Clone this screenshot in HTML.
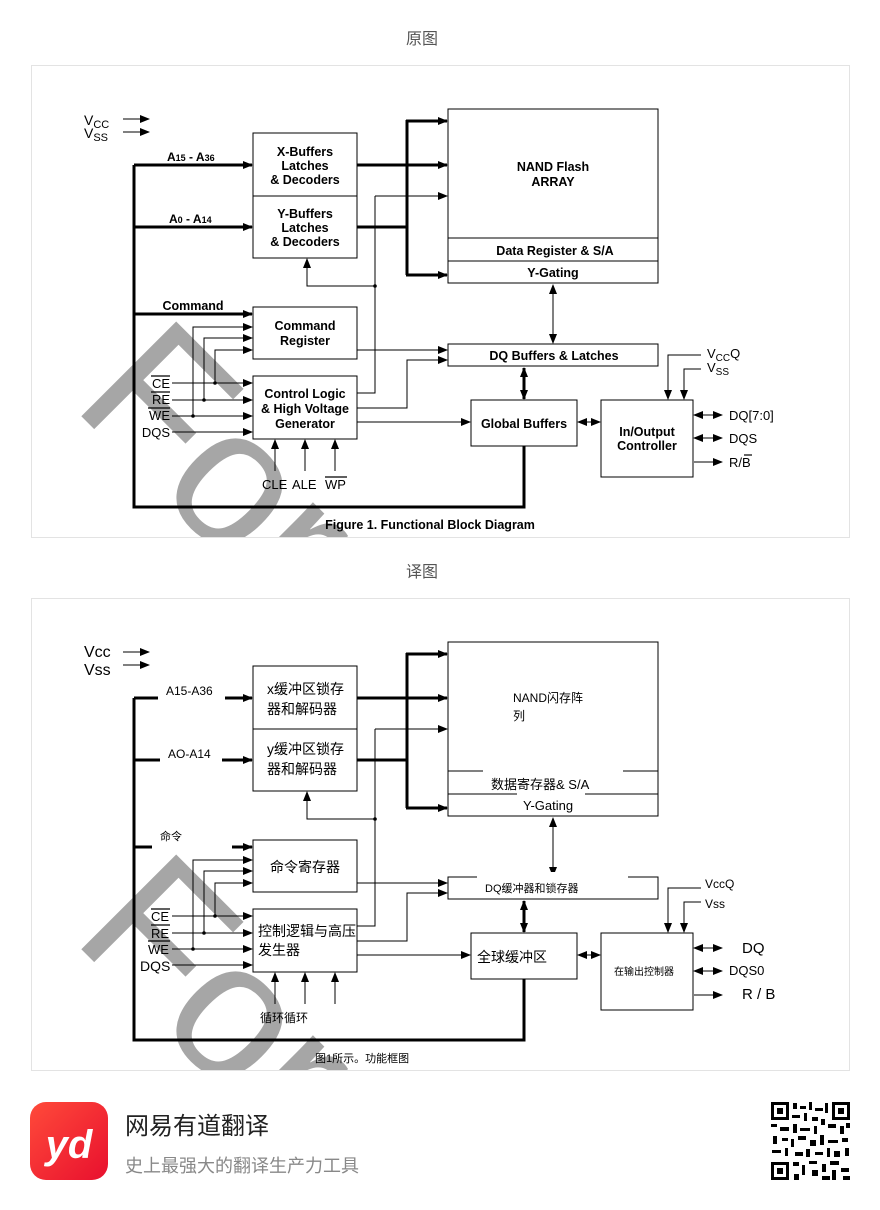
<!DOCTYPE html>
<html><head><meta charset="utf-8"><style>
html,body{margin:0;padding:0;background:#fff;}
svg{display:block;}
text{font-family:"Liberation Sans","Noto Sans CJK SC",sans-serif;}
</style></head><body>
<svg width="880" height="1210" viewBox="0 0 880 1210" xmlns="http://www.w3.org/2000/svg">
<defs>
<marker id="a" markerUnits="userSpaceOnUse" markerWidth="10" markerHeight="8" refX="9" refY="4" orient="auto"><path d="M0,0 L10,4 L0,8 z" fill="#000"/></marker>
<marker id="s" markerUnits="userSpaceOnUse" markerWidth="10" markerHeight="8" refX="1" refY="4" orient="auto"><path d="M10,0 L0,4 L10,8 z" fill="#000"/></marker>
<clipPath id="c1"><rect x="31" y="65" width="818" height="472"/></clipPath>
<g id="wm">
<text x="70" y="405" transform="rotate(45 70 405)" font-size="195" fill="#a6a6a6">For</text>
</g>
<g id="diag" stroke="#000" fill="none">
<g stroke-width="3">
<path d="M134,165 V507 H524 V446"/>
<line x1="134" y1="165" x2="252" y2="165" marker-end="url(#a)"/>
<line x1="134" y1="227" x2="252" y2="227" marker-end="url(#a)"/>
<line x1="134" y1="314" x2="252" y2="314" marker-end="url(#a)"/>
<line x1="357" y1="165" x2="447" y2="165" marker-end="url(#a)"/>
<line x1="357" y1="227" x2="407" y2="227"/>
<line x1="407" y1="120" x2="407" y2="275"/>
<line x1="406" y1="121" x2="447" y2="121" marker-end="url(#a)"/>
<line x1="406" y1="275" x2="447" y2="275" marker-end="url(#a)"/>
<line x1="524" y1="368" x2="524" y2="399" marker-end="url(#a)" marker-start="url(#s)"/>
</g>
<g stroke-width="1">
<rect x="253" y="133" width="104" height="125"/>
<line x1="253" y1="196" x2="357" y2="196"/>
<rect x="253" y="307" width="104" height="52"/>
<rect x="253" y="376" width="104" height="63"/>
<rect x="448" y="109" width="210" height="174"/>
<line x1="448" y1="238" x2="658" y2="238"/>
<line x1="448" y1="261" x2="658" y2="261"/>
<rect x="448" y="344" width="210" height="22"/>
<rect x="471" y="400" width="106" height="46"/>
<rect x="601" y="400" width="92" height="77"/>
<path d="M375,196 H447" marker-end="url(#a)"/>
<path d="M375,196 V393 H357"/>
<path d="M375,286 H307 V259" marker-end="url(#a)"/>
<path d="M193,416 V327 H252" marker-end="url(#a)"/>
<path d="M204,400 V338 H252" marker-end="url(#a)"/>
<path d="M215,383 V350 H252" marker-end="url(#a)"/>
<line x1="172" y1="383" x2="252" y2="383" marker-end="url(#a)"/>
<line x1="172" y1="400" x2="252" y2="400" marker-end="url(#a)"/>
<line x1="172" y1="416" x2="252" y2="416" marker-end="url(#a)"/>
<line x1="172" y1="432" x2="252" y2="432" marker-end="url(#a)"/>
<line x1="275" y1="471" x2="275" y2="440" marker-end="url(#a)"/>
<line x1="305" y1="471" x2="305" y2="440" marker-end="url(#a)"/>
<line x1="335" y1="471" x2="335" y2="440" marker-end="url(#a)"/>
<line x1="357" y1="350" x2="447" y2="350" marker-end="url(#a)"/>
<path d="M357,408 H407 V360 H447" marker-end="url(#a)"/>
<line x1="357" y1="422" x2="470" y2="422" marker-end="url(#a)"/>
<line x1="553" y1="285" x2="553" y2="343" marker-end="url(#a)" marker-start="url(#s)"/>
<line x1="578" y1="422" x2="600" y2="422" marker-end="url(#a)" marker-start="url(#s)"/>
<path d="M701,355 H668 V399" marker-end="url(#a)"/>
<path d="M701,369 H684 V399" marker-end="url(#a)"/>
<line x1="694" y1="415" x2="722" y2="415" marker-end="url(#a)" marker-start="url(#s)"/>
<line x1="694" y1="438" x2="722" y2="438" marker-end="url(#a)" marker-start="url(#s)"/>
<line x1="694" y1="462" x2="722" y2="462" marker-end="url(#a)"/>
<line x1="123" y1="119" x2="149" y2="119" marker-end="url(#a)"/>
<line x1="123" y1="132" x2="149" y2="132" marker-end="url(#a)"/>
</g>
<g fill="#000" stroke="none">
<circle cx="375" cy="286" r="1.8"/><circle cx="215" cy="383" r="1.8"/><circle cx="204" cy="400" r="1.8"/><circle cx="193" cy="416" r="1.8"/>
</g>
</g>
</defs>

<text x="422" y="44" font-size="16" fill="#555" text-anchor="middle">原图</text>
<text x="422" y="577" font-size="16" fill="#555" text-anchor="middle">译图</text>
<rect x="31.5" y="65.5" width="818" height="472" fill="none" stroke="#e3e3e3"/>
<rect x="31.5" y="598.5" width="818" height="472" fill="none" stroke="#e3e3e3"/>

<g clip-path="url(#c1)"><use href="#wm"/></g>
<use href="#diag"/>
<g font-weight="bold" font-size="12.5" text-anchor="middle" fill="#000">
<text x="305" y="156">X-Buffers</text><text x="305" y="170">Latches</text><text x="305" y="184">&amp; Decoders</text>
<text x="305" y="218">Y-Buffers</text><text x="305" y="232">Latches</text><text x="305" y="246">&amp; Decoders</text>
<text x="305" y="330">Command</text><text x="305" y="345">Register</text>
<text x="305" y="398">Control Logic</text><text x="305" y="413">&amp; High Voltage</text><text x="305" y="428">Generator</text>
<text x="553" y="171">NAND Flash</text><text x="553" y="186">ARRAY</text>
<text x="555" y="255">Data Register &amp; S/A</text>
<text x="553" y="277">Y-Gating</text>
<text x="554" y="360">DQ Buffers &amp; Latches</text>
<text x="524" y="428">Global Buffers</text>
<text x="647" y="436">In/Output</text><text x="647" y="450">Controller</text>
<text x="193" y="310">Command</text>
<text x="430" y="529">Figure 1. Functional Block Diagram</text>
</g>
<g font-weight="bold" font-size="12" fill="#000">
<text x="167" y="161">A<tspan font-size="9">15</tspan> - A<tspan font-size="9">36</tspan></text>
<text x="169" y="223">A<tspan font-size="9">0</tspan> - A<tspan font-size="9">14</tspan></text>
</g>
<g font-size="13" fill="#000">
<text x="84" y="125" font-size="14">V<tspan font-size="11" dy="3">CC</tspan></text>
<text x="84" y="138" font-size="14">V<tspan font-size="11" dy="3">SS</tspan></text>
<text x="170" y="388" text-anchor="end">CE</text>
<text x="170" y="404" text-anchor="end">RE</text>
<text x="170" y="420" text-anchor="end">WE</text>
<text x="170" y="437" text-anchor="end">DQS</text>
<text x="262" y="489">CLE</text><text x="292" y="489">ALE</text><text x="325" y="489">WP</text>
<text x="707" y="358">V<tspan font-size="10" dy="3">CC</tspan><tspan dy="-3">Q</tspan></text>
<text x="707" y="372">V<tspan font-size="10" dy="3">SS</tspan></text>
<text x="729" y="420">DQ[7:0]</text>
<text x="729" y="443">DQS</text>
<text x="729" y="467">R/B</text>
</g>
<g stroke="#000" stroke-width="1.2">
<line x1="151" y1="376" x2="170" y2="376"/><line x1="151" y1="392" x2="170" y2="392"/><line x1="148" y1="408" x2="170" y2="408"/><line x1="325" y1="477" x2="347" y2="477"/><line x1="744" y1="455" x2="752" y2="455"/>
</g>

<g transform="translate(0,533)">
<g clip-path="url(#c1)"><use href="#wm"/></g>
<use href="#diag"/>
<g fill="#fff">
<rect x="158" y="150" width="67" height="24"/>
<rect x="160" y="212" width="62" height="24"/>
<rect x="152" y="296" width="80" height="24"/>
<rect x="483" y="233" width="140" height="10"/>
<rect x="517" y="256" width="68" height="12"/>
<rect x="477" y="339" width="151" height="10"/>
<rect x="100" y="430" width="70" height="8"/>
<rect x="723" y="405" width="60" height="70"/>
</g>
<line x1="134" y1="430" x2="134" y2="438" stroke="#000" stroke-width="3"/>
</g>
<g font-size="15" fill="#000">
<text x="84" y="657" font-size="16">Vcc</text>
<text x="84" y="675" font-size="16">Vss</text>
<text x="166" y="695" font-size="12">A15-A36</text>
<text x="168" y="758" font-size="12">AO-A14</text>
<text x="160" y="840" font-size="11">命令</text>
<text x="267" y="694" font-size="14">x缓冲区锁存</text><text x="267" y="714" font-size="14">器和解码器</text>
<text x="267" y="754" font-size="14">y缓冲区锁存</text><text x="267" y="774" font-size="14">器和解码器</text>
<text x="305" y="872" font-size="14" text-anchor="middle">命令寄存器</text>
<text x="258" y="936" font-size="14">控制逻辑与高压</text>
<text x="258" y="955" font-size="14">发生器</text>
<text x="260" y="1022" font-size="12">循环循环</text>
<text x="513" y="702" font-size="12">NAND闪存阵</text>
<text x="513" y="720" font-size="12">列</text>
<text x="491" y="789" font-size="13">数据寄存器&amp; S/A</text>
<text x="523" y="810" font-size="13">Y-Gating</text>
<text x="485" y="892" font-size="11">DQ缓冲器和锁存器</text>
<text x="477" y="962" font-size="14">全球缓冲区</text>
<text x="614" y="975" font-size="10">在输出控制器</text>
<text x="705" y="888" font-size="12">VccQ</text>
<text x="705" y="908" font-size="12">Vss</text>
<text x="742" y="953" font-size="15">DQ</text>
<text x="729" y="975" font-size="13">DQS0</text>
<text x="742" y="999" font-size="15">R / B</text>
<text x="315" y="1062" font-size="11">图1所示。功能框图</text>
<text x="151" y="921" font-size="13">CE</text>
<text x="151" y="938" font-size="13">RE</text>
<text x="148" y="954" font-size="13">WE</text>
<text x="140" y="971" font-size="14">DQS</text>
</g>
<g stroke="#000" stroke-width="1.2">
<line x1="151" y1="909" x2="170" y2="909"/><line x1="151" y1="925" x2="170" y2="925"/><line x1="148" y1="941" x2="170" y2="941"/>
</g>

<defs><linearGradient id="lg" x1="0" y1="0" x2="1" y2="1"><stop offset="0" stop-color="#ff4a3a"/><stop offset="1" stop-color="#e8102e"/></linearGradient></defs>
<rect x="30" y="1102" width="78" height="78" rx="16" fill="url(#lg)"/>
<text x="69" y="1158" font-size="40" font-weight="bold" fill="#fff" text-anchor="middle" font-style="italic">yd</text>
<text x="125" y="1134" font-size="24" fill="#222">网易有道翻译</text>
<text x="125" y="1172" font-size="18" fill="#888">史上最强大的翻译生产力工具</text>
<g fill="#000">
<rect x="771" y="1102" width="79" height="79" fill="#fff"/>
<rect x="771" y="1102" width="18" height="18"/><rect x="774" y="1105" width="12" height="12" fill="#fff"/><rect x="777" y="1108" width="6" height="6"/>
<rect x="832" y="1102" width="18" height="18"/><rect x="835" y="1105" width="12" height="12" fill="#fff"/><rect x="838" y="1108" width="6" height="6"/>
<rect x="771" y="1162" width="18" height="18"/><rect x="774" y="1165" width="12" height="12" fill="#fff"/><rect x="777" y="1168" width="6" height="6"/>
<rect x="793" y="1103" width="4" height="6"/><rect x="800" y="1106" width="6" height="3"/><rect x="809" y="1102" width="3" height="8"/><rect x="815" y="1108" width="8" height="3"/><rect x="825" y="1103" width="3" height="10"/>
<rect x="792" y="1115" width="8" height="3"/><rect x="804" y="1113" width="3" height="8"/><rect x="812" y="1117" width="6" height="4"/><rect x="821" y="1119" width="4" height="6"/>
<rect x="771" y="1124" width="6" height="3"/><rect x="780" y="1127" width="9" height="4"/><rect x="793" y="1124" width="4" height="9"/><rect x="800" y="1128" width="10" height="3"/><rect x="814" y="1126" width="3" height="8"/><rect x="828" y="1124" width="8" height="4"/><rect x="840" y="1126" width="4" height="8"/><rect x="846" y="1123" width="4" height="5"/>
<rect x="773" y="1136" width="4" height="8"/><rect x="782" y="1138" width="6" height="3"/><rect x="791" y="1139" width="3" height="8"/><rect x="798" y="1136" width="8" height="4"/><rect x="810" y="1140" width="6" height="6"/><rect x="820" y="1135" width="4" height="10"/><rect x="828" y="1140" width="10" height="3"/><rect x="842" y="1138" width="6" height="4"/>
<rect x="772" y="1150" width="9" height="3"/><rect x="785" y="1148" width="3" height="8"/><rect x="795" y="1152" width="8" height="4"/><rect x="806" y="1149" width="4" height="8"/><rect x="815" y="1152" width="8" height="3"/><rect x="827" y="1148" width="3" height="9"/><rect x="834" y="1151" width="6" height="6"/><rect x="845" y="1148" width="4" height="8"/>
<rect x="793" y="1162" width="6" height="4"/><rect x="802" y="1165" width="3" height="10"/><rect x="809" y="1161" width="8" height="3"/><rect x="812" y="1170" width="6" height="6"/><rect x="822" y="1164" width="4" height="8"/><rect x="830" y="1161" width="9" height="4"/><rect x="832" y="1170" width="4" height="10"/><rect x="841" y="1168" width="8" height="4"/><rect x="794" y="1174" width="5" height="6"/><rect x="822" y="1176" width="8" height="4"/><rect x="843" y="1176" width="7" height="4"/>
</g>
</svg>
</body></html>
